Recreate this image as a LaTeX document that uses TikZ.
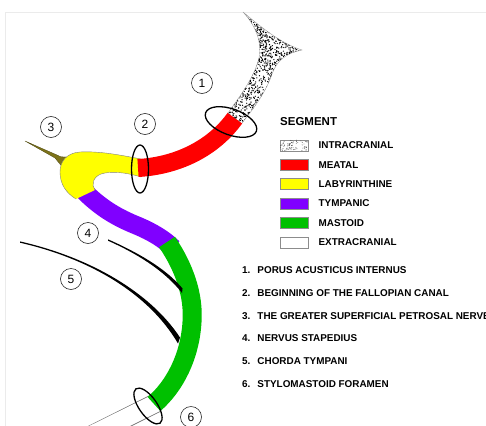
\documentclass[tikz,border=0pt]{standalone}
\usepackage{fontspec}
\setmainfont{Liberation Sans}
\usetikzlibrary{positioning}
\definecolor{meatal}{RGB}{255,0,0}
\definecolor{labyrinthine}{RGB}{255,255,0}
\definecolor{tympanic}{RGB}{128,0,255}
\definecolor{mastoid}{RGB}{0,192,0}
\definecolor{petrosal}{RGB}{125,115,25}
\newcommand{\keyfont}{\fontsize{9.9}{11}\selectfont\bfseries}
\newcommand{\titlefont}{\fontsize{11.5}{13}\selectfont\bfseries}
\tikzset{
	swatch/.style={
		rectangle,
		draw=black!45, thin,
		minimum width=28pt,
		minimum height=11pt,
		inner sep=0pt,
	},
	key/.style={font=\keyfont, inner sep=0pt, anchor=west},
	num/.style={circle, draw=black!85, line width=0.6pt, minimum size=21pt,
		inner sep=0pt, font=\fontsize{12}{14}\selectfont},
	ring/.style={draw=black, line width=1.3pt},
}

\begin{document}
\begin{tikzpicture}[x=1pt, y=-1pt]
	\useasboundingbox (0,0) rectangle (486,425);
	\clip (0,0) rectangle (486,425);
	\draw[black!8, line width=1pt] (5,426) -- (5,13) -- (487,13);

	% extracranial part, leaving the foramen
	\draw[black!55, line width=19.5pt] (156,403) -- (66,448);
	\draw[white, line width=18pt] (157,402.5) -- (65,448);

	% greater superficial petrosal nerve
	\filldraw[petrosal, draw=petrosal!60!black, line width=0.3pt] (25,141) -- (57,155)
		.. controls (61,157) .. (67,157) -- (64,169) .. controls (60,163) .. (55,158) -- cycle;

	% tympanic and mastoid segments
	\draw[tympanic, line width=18.5pt] (82,189) .. controls (100,208) and (118,218) .. (138,226)
		.. controls (152,232) and (164,239) .. (173,248);
	\draw[mastoid, line width=19pt] (167,242) .. controls (184,267) and (194,295) .. (192,322)
		.. controls (190,356) and (175,386) .. (154,404);

	% labyrinthine segment (geniculate ganglion)
	\fill[labyrinthine] (141,159) .. controls (120,155) and (100,151) .. (80,152)
		.. controls (66,153) and (60,162) .. (60,172) .. controls (60,184) and (66,193) .. (76,199)
		-- (95,190) .. controls (91,185) and (93,177) .. (101,174)
		.. controls (110,171) and (125,172) .. (141,177) -- cycle;
	\draw[black!50, line width=0.4pt] (141,159) .. controls (120,155) and (100,151) .. (80,152)
		.. controls (66,153) and (60,162) .. (60,172) .. controls (60,184) and (66,193) .. (76,199);
	\draw[black!50, line width=0.4pt] (95,190) .. controls (91,185) and (93,177) .. (101,174)
		.. controls (110,171) and (125,172) .. (141,177);

	% meatal segment
	\draw[meatal, line width=18pt] (138,168) .. controls (175,166) and (212,150) .. (235,118);

	% intracranial part, dotted
	\begin{scope}
		\path[clip] (228,113) .. controls (240,96) and (254,78) .. (259,58)
			.. controls (262,42) and (256,26) .. (243,12) .. controls (262,28) and (282,44) .. (302,50)
			.. controls (287,53) and (277,60) .. (272,74) .. controls (266,92) and (254,108) .. (242,123) -- cycle;
		\fill[white] (220,10) rectangle (310,130);
		\pgfmathsetseed{11}
		\foreach \i in {1,...,2600}{
			\pgfmathsetmacro\dx{224+82*rnd}
			\pgfmathsetmacro\dy{10+116*rnd}
			\fill[black] (\dx,\dy) circle[radius=0.65pt];
		}
	\end{scope}
	\draw[black!40, line width=0.4pt] (228,113) .. controls (240,96) and (254,78) .. (259,58)
		.. controls (262,42) and (256,26) .. (243,12) .. controls (262,28) and (282,44) .. (302,50)
		.. controls (287,53) and (277,60) .. (272,74) .. controls (266,92) and (254,108) .. (242,123);

	% nervus stapedius and chorda tympani
	\fill (108,239.3) .. controls (135,251.3) and (165,267.3) .. (182.5,288.5) -- (182,293)
		.. controls (164,269.8) and (135,252.7) .. (108,240.7) -- cycle;
	\fill (20,241.4) .. controls (90,257.4) and (150,292) .. (180,337.5) -- (178,343.5)
		.. controls (149,293.8) and (90,258.7) .. (20,242.7) -- cycle;

	% landmarks
	\draw[ring, rotate around={-20:(231,122)}] (231,122) ellipse [x radius=27pt, y radius=13pt];
	\draw[ring] (140,169) ellipse [x radius=8.5pt, y radius=24pt];
	\draw[ring, rotate around={-55:(148,406)}] (148,406) ellipse [x radius=21pt, y radius=9pt];

	\node[num] (n1) at (202,83) {1};
	\node[num] (n2) at (145,124) {2};
	\node[num] (n3) at (51,127) {3};
	\node[num] (n4) at (88,233) {4};
	\node[num] (n5) at (71,279) {5};
	\node[num] (n6) at (191,417) {6};

	% legend
	\node[anchor=west, font=\titlefont, inner sep=0pt] (segment) at (280,122) {SEGMENT};
	\node[swatch, fill=white, below=13.4pt of segment.south west, anchor=north west] (intra) {};
	\node[swatch, fill=meatal, below=8pt of intra] (meat) {};
	\node[swatch, fill=labyrinthine, below=8pt of meat] (laby) {};
	\node[swatch, fill=tympanic, below=8pt of laby] (tymp) {};
	\node[swatch, fill=mastoid, below=8pt of tymp] (mast) {};
	\node[swatch, fill=white, below=8pt of mast] (extra) {};
	\begin{scope}
		\clip (intra.south west) rectangle (intra.north east);
		\foreach \i in {1,...,70}{
			\pgfmathsetmacro\dx{28*rnd}
			\pgfmathsetmacro\dy{11*rnd}
			\fill[black!70] ([xshift=\dx pt, yshift=\dy pt]intra.south west) circle[radius=0.45pt];
		}
	\end{scope}
	\node[key, right=10pt of intra] (intratext) {INTRACRANIAL};
	\node[key, right=10pt of meat] (meattext) {MEATAL};
	\node[key, right=10pt of laby] (labytext) {LABYRINTHINE};
	\node[key, right=10pt of tymp] (tymptext) {TYMPANIC};
	\node[key, right=10pt of mast] (masttext) {MASTOID};
	\node[key, right=10pt of extra] (extratext) {EXTRACRANIAL};

	% landmark list
	\node[key] (l1) at (242,270) {1.\hspace{7pt}PORUS ACUSTICUS INTERNUS};
	\node[key, below=22.8pt of l1.west, anchor=west] (l2) {2.\hspace{7pt}BEGINNING OF THE FALLOPIAN CANAL};
	\node[key, below=22.8pt of l2.west, anchor=west] (l3) {3.\hspace{7pt}THE GREATER SUPERFICIAL PETROSAL NERVE};
	\node[key, below=22.8pt of l3.west, anchor=west] (l4) {4.\hspace{7pt}NERVUS STAPEDIUS};
	\node[key, below=22.8pt of l4.west, anchor=west] (l5) {5.\hspace{7pt}CHORDA TYMPANI};
	\node[key, below=22.8pt of l5.west, anchor=west] (l6) {6.\hspace{7pt}STYLOMASTOID FORAMEN};
\end{tikzpicture}
\end{document}
